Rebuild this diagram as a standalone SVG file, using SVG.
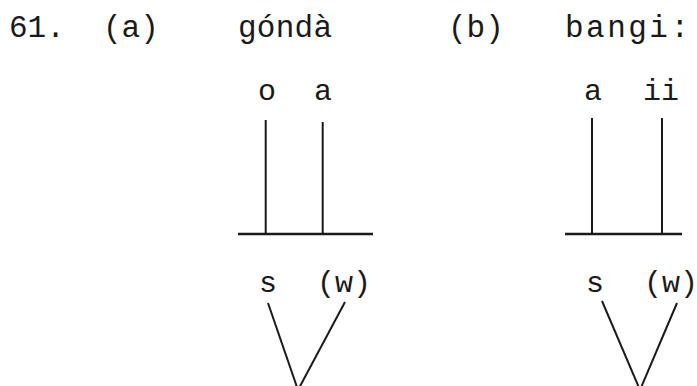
<svg xmlns="http://www.w3.org/2000/svg" width="697" height="386" viewBox="0 0 697 386">
<style>
text{font-family:"Liberation Mono","Courier New",monospace;font-size:30px;fill:#1a1a1a}
.hd{font-size:31px}
.ln{stroke:#1a1a1a;stroke-width:2;fill:none;stroke-linecap:butt}
.hz{stroke:#1a1a1a;stroke-width:2.5;fill:none}
</style>
<rect width="697" height="386" fill="#fff"/>
<g id="header">
<text class="hd" x="9" y="37">61.</text>
<text class="hd" x="103" y="37">(a)</text>
<text class="hd" x="238" y="37" textLength="94" lengthAdjust="spacing">góndà</text>
<text class="hd" x="448" y="37">(b)</text>
<text class="hd" x="565" y="37" textLength="124" lengthAdjust="spacing">bangi:</text>
</g>
<g id="node-a-o"><text x="267" y="100" text-anchor="middle">o</text></g>
<g id="node-a-a"><text x="323" y="100" text-anchor="middle">a</text></g>
<g id="node-a-s"><text x="268" y="292" text-anchor="middle">s</text></g>
<g id="node-a-w"><text x="344" y="292" text-anchor="middle">(w)</text></g>
<g id="node-b-a"><text x="593" y="100" text-anchor="middle">a</text></g>
<g id="node-b-ii"><text x="661" y="100" text-anchor="middle">ii</text></g>
<g id="node-b-s"><text x="595" y="292" text-anchor="middle">s</text></g>
<g id="node-b-w"><text x="671" y="292" text-anchor="middle">(w)</text></g>
<g id="connectors">
<line class="ln" x1="265.7" y1="120" x2="265.7" y2="234"/>
<line class="ln" x1="322.7" y1="122" x2="322.7" y2="234"/>
<line class="hz" x1="238" y1="234" x2="373" y2="234"/>
<line class="ln" x1="268" y1="303" x2="298" y2="390"/>
<line class="ln" x1="345" y1="302" x2="298" y2="390"/>
<line class="ln" x1="592" y1="118" x2="592" y2="234"/>
<line class="ln" x1="662" y1="118" x2="662" y2="234"/>
<line class="hz" x1="565" y1="234" x2="682" y2="234"/>
<line class="ln" x1="602" y1="301" x2="640" y2="390"/>
<line class="ln" x1="677" y1="303" x2="640" y2="390"/>
</g>
</svg>
